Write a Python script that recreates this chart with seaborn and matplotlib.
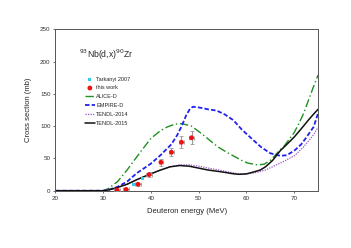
import numpy as np
import pandas as pd
import matplotlib
matplotlib.use("Agg")
import matplotlib.pyplot as plt
import seaborn as sns

# ---- data ----
tark_x = [36.4, 38.3, 40.0]
tark_y = [9, 19, 27]

work_x = [32.9, 34.8, 37.3, 39.6, 42.1, 44.3, 46.4, 48.5]
work_y = [1, 2, 10, 25, 44, 59.5, 75, 82]
work_yerr = [1, 1, 2, 3, 5, 6, 9, 10]
work_xerr = [0.6, 0.6, 0.6, 0.6, 0.5, 0.5, 0.5, 0.5]

alice_x = [20, 30, 31, 33, 35, 36.5, 38, 40, 42, 43.5, 45, 46.4, 48.5, 50.5, 52, 54, 56, 57.5, 59, 60.2, 61.5, 62.3, 63.7, 65, 65.8, 67, 67.9, 69, 70, 71, 72, 73, 74, 75]
alice_y = [0, 0, 3, 14, 32, 47, 62, 81, 93, 99, 103, 104, 100, 89, 80, 68, 59, 53, 47, 43, 41, 40, 41, 47, 53, 63, 69, 80, 90, 104, 120, 140, 160, 179]

empire_x = [20, 30, 31, 33, 35, 37, 40, 42, 44.3, 45.5, 46.5, 47.4, 48.2, 48.8, 50, 52, 53.8, 55.5, 57.3, 59, 61.5, 63, 65, 67.1, 68.5, 70.2, 71.5, 72.5, 74.1, 75]
empire_y = [0, 0, 1, 6, 14, 27, 42, 55, 72, 86, 101, 117, 127, 130, 129, 126, 124, 118, 109, 95, 78, 68, 58, 54, 55, 63, 72, 82, 99, 120]

t14_x = [20, 30, 31, 33, 35, 37, 39.6, 42, 44, 46, 48, 50, 52, 55, 57, 58.4, 60, 62, 64, 66, 68, 70.2, 72, 74, 75]
t14_y = [0, 0, 1, 5, 10, 17, 25, 32, 37, 40, 40, 38, 35, 31, 28, 26, 26, 28, 32, 39, 46, 55, 68, 86, 98]

t15_x = [20, 30, 31, 33, 35, 37, 39.6, 42, 44, 46, 48, 50, 52, 55, 57, 58.4, 60, 61.5, 62.9, 64, 65.5, 67.1, 68.5, 70, 71.5, 73, 74, 75]
t15_y = [0, 0, 1, 5, 10, 17, 25, 32, 37, 39, 38, 35, 32, 29, 26.5, 25.4, 26, 29, 32, 37, 47, 62, 72, 83, 96, 109.5, 118, 126]

xticks = [20, 30, 40, 50, 60, 70]
yticks = [0, 50, 100, 150, 200, 250]

# ---- plot ----
sns.set_style("white")
plt.rcParams['font.family'] = ['Liberation Sans', 'DejaVu Sans']

fig = plt.figure(figsize=(3.51, 2.48), dpi=100)
ax = fig.add_axes([0.158, 0.231, 0.748, 0.651])

ax.errorbar(work_x, work_y, yerr=work_yerr, xerr=work_xerr, fmt='none',
            ecolor='#999999', elinewidth=0.8, capsize=1.2, capthick=0.6, zorder=3)

sns.scatterplot(x=tark_x, y=tark_y, ax=ax, marker='s', s=5, color='#33ccee',
                edgecolor='none', label='Tarkanyi 2007', zorder=5)
sns.scatterplot(x=work_x, y=work_y, ax=ax, marker='o', s=12, color='#ee1111',
                edgecolor='none', label='this work', zorder=6)

sns.lineplot(x=alice_x, y=alice_y, ax=ax, color='#1f8f1f', lw=1.0,
             linestyle=(0, (6, 2, 1, 2)), label='ALICE-D', estimator=None, sort=False)
sns.lineplot(x=empire_x, y=empire_y, ax=ax, color='#2222ee', lw=1.3,
             linestyle=(0, (2.5, 1.2)), label='EMPIRE-D', estimator=None, sort=False)
sns.lineplot(x=t14_x, y=t14_y, ax=ax, color='#9955cc', lw=0.9,
             linestyle=(0, (1, 1)), label='TENDL-2014', estimator=None, sort=False)
sns.lineplot(x=t15_x, y=t15_y, ax=ax, color='#111111', lw=1.1,
             linestyle='-', label='TENDL-2015', estimator=None, sort=False)

ax.set_xlim(20, 75)
ax.set_ylim(0, 250)
ax.set_xticks(xticks)
ax.set_yticks(yticks)
ax.tick_params(axis='both', labelsize=4.5, length=1.5, width=0.5, pad=2, direction='out',
               colors='#333333')
ax.tick_params(left=True, bottom=True)
for sp in ax.spines.values():
    sp.set_color('#555555')
    sp.set_linewidth(0.7)
ax.set_xlabel('Deuteron energy (MeV)', fontsize=5.5, labelpad=5)
ax.set_ylabel('Cross section (mb)', fontsize=5.5, labelpad=6)

ax.text(0.09, 0.84, r'$^{93}$Nb(d,x)$^{90}$Zr', transform=ax.transAxes,
        fontsize=6.2, va='center', ha='left')

leg = ax.legend(loc='upper left', bbox_to_anchor=(0.094, 0.738), frameon=False,
                fontsize=4.0, handlelength=1.7, labelspacing=0.7, handletextpad=0.3,
                markerscale=1.0)

fig.savefig('out.png', dpi=100)
